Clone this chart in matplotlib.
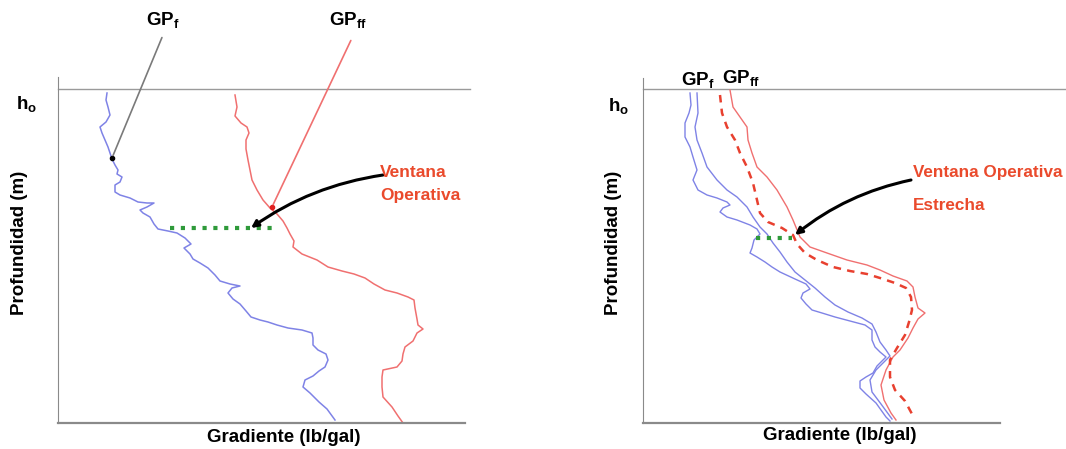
import matplotlib.pyplot as plt

plt.rcParams['font.family'] = ['Liberation Sans', 'DejaVu Sans']
plt.rcParams['mathtext.fontset'] = 'custom'
plt.rcParams['mathtext.rm'] = 'Liberation Sans'
plt.rcParams['mathtext.bf'] = 'Liberation Sans:bold'

# ---- left panel: wide operating window (gradient vs depth, arbitrary units) ----
gpf_l_x = [49, 48, 50, 52, 48, 42, 44, 47, 50, 52, 54, 57, 60, 59, 64, 62, 57, 57, 62, 72,
           80, 89, 96, 89, 82, 85, 92, 96, 100, 110, 119, 127, 133, 126, 132, 135, 142, 150,
           157, 162, 172, 182, 174, 170, 175, 182, 188, 193, 202, 210, 219, 230, 244, 254,
           255, 255, 260, 268, 270, 267, 261, 255, 247, 245, 252, 261, 269, 277]
gpf_l_d = [4, 11, 18, 26, 33, 38, 44, 51, 58, 64, 70, 76, 81, 85, 88, 93, 96, 103, 106, 109,
           113, 114, 114, 118, 121, 124, 128, 135, 140, 142, 144, 149, 155, 159, 165, 170, 174,
           179, 186, 192, 195, 197, 199, 204, 210, 215, 222, 228, 231, 233, 236, 239, 241, 244,
           249, 256, 261, 265, 271, 278, 282, 287, 291, 298, 304, 313, 320, 331]

gpff_l_x = [177, 179, 177, 183, 189, 191, 188, 188, 190, 192, 194, 199, 205, 212, 219, 225,
            229, 232, 236, 235, 244, 259, 270, 284, 296, 307, 316, 327, 339, 350, 356, 357,
            359, 360, 365, 359, 355, 347, 345, 344, 339, 325, 324, 324, 325, 334, 340, 345]
gpff_l_d = [6, 18, 27, 34, 38, 44, 51, 60, 71, 81, 91, 101, 111, 119, 125, 132, 139, 145,
            152, 158, 165, 171, 178, 182, 185, 189, 195, 201, 204, 208, 211, 219, 230, 236,
            240, 244, 252, 258, 265, 272, 278, 281, 288, 298, 308, 318, 327, 334]

win_l_x = [112, 220]
win_l_d = [139, 139]

# ---- right panel: narrow operating window ----
gpf_r1_x = [47, 48, 46, 42, 42, 47, 50, 54, 50, 55, 64, 74, 84, 87, 80, 77, 84, 94, 107, 114,
            117, 111, 109, 107, 114, 122, 129, 137, 152, 163, 167, 160, 158, 163, 169, 179,
            192, 207, 222, 229, 229, 232, 237, 243, 234, 230, 223, 217, 217, 223, 233, 243, 247]
gpf_r1_d = [4, 16, 24, 34, 48, 58, 68, 81, 91, 101, 106, 109, 113, 116, 119, 123, 128, 131,
            136, 140, 145, 151, 159, 164, 168, 173, 178, 183, 190, 195, 200, 204, 209, 215,
            221, 224, 228, 232, 236, 241, 251, 258, 263, 268, 277, 284, 288, 292, 299, 305,
            314, 328, 332]

gpf_r2_x = [54, 55, 52, 54, 59, 64, 74, 84, 94, 104, 110, 117, 124, 130, 137, 144, 152, 162,
            172, 182, 192, 205, 219, 229, 233, 237, 243, 247, 241, 233, 227, 229, 238, 249]
gpf_r2_d = [4, 24, 38, 51, 64, 78, 91, 101, 108, 118, 128, 138, 145, 154, 163, 173, 183, 191,
            199, 208, 216, 223, 229, 235, 243, 253, 261, 267, 273, 281, 291, 303, 315, 330]

gpff_r_x = [87, 90, 97, 104, 105, 109, 114, 124, 134, 144, 150, 157, 167, 184, 204, 224, 237,
            250, 264, 270, 272, 275, 282, 275, 270, 265, 257, 250, 243, 238, 241, 248, 253]
gpff_r_d = [1, 18, 28, 38, 51, 64, 78, 88, 101, 118, 131, 148, 158, 164, 171, 176, 181, 187,
            192, 198, 208, 219, 224, 230, 239, 249, 261, 268, 281, 296, 311, 324, 331]

gpff_r2_x = [77, 79, 84, 92, 97, 104, 110, 114, 117, 125, 139, 150, 154, 162, 174, 190, 207,
             224, 237, 252, 263, 268, 269, 266, 262, 254, 247, 247, 252, 262, 269]
gpff_r2_d = [6, 24, 38, 51, 64, 78, 94, 111, 124, 133, 139, 146, 155, 164, 171, 178, 182,
             185, 189, 194, 199, 208, 221, 233, 246, 259, 271, 288, 301, 312, 325]

win_r_x = [113, 149]
win_r_d = [149, 149]

W, H = 1066, 449
fig = plt.figure(figsize=(W / 100, H / 100), dpi=100)

BLUE = '#7f83e6'
RED = '#f07070'
RED_D = '#e8402f'
TXT_RED = '#ea4a2c'


def px(x, y):
    return x / W, 1 - y / H


def make_axes(x0, x1, ytop, ybot, depth_top):
    ax = fig.add_axes([x0 / W, 1 - ybot / H, (x1 - x0) / W, (ybot - ytop) / H])
    ax.set_xlim(0, x1 - x0)
    ax.set_ylim(ybot - depth_top, ytop - depth_top)
    for s in ['top', 'right']:
        ax.spines[s].set_visible(False)
    ax.spines['left'].set_color('#8a8a8a')
    ax.spines['bottom'].set_color('#8a8a8a')
    ax.spines['bottom'].set_linewidth(1.6)
    ax.set_xticks([])
    ax.set_yticks([])
    return ax


def label(x, y, main, sub, size=13.5):
    fig.text(*px(x, y), r'$\mathbf{%s}_\mathbf{%s}$' % (main, sub), fontsize=size,
             ha='center', va='center')


ARROW = dict(arrowstyle='-|>,head_length=0.4,head_width=0.2', color='black',
             lw=2.2, connectionstyle='arc3,rad=0.12', shrinkA=0, shrinkB=0)

# left panel
ax1 = make_axes(58, 465, 77, 423, 89)
ax1.plot([0, 412], [0, 0], color='#9a9a9a', lw=1, clip_on=False)
ax1.plot(gpf_l_x, gpf_l_d, color=BLUE, lw=1.1)
ax1.plot(gpff_l_x, gpff_l_d, color=RED, lw=1.1)
ax1.plot(win_l_x, win_l_d, color='#2f9a3a', lw=3, ls=(0, (1, 1.6)))
ax1.annotate('', xy=(54, 69), xytext=(105, -54), annotation_clip=False,
             arrowprops=dict(arrowstyle='-', color='#7a7a7a', lw=1.2))
ax1.plot([54], [69], 'o', color='black', ms=3)
ax1.annotate('', xy=(214, 118), xytext=(294, -51), annotation_clip=False,
             arrowprops=dict(arrowstyle='-', color=RED, lw=1.2))
ax1.plot([214], [118], 'o', color='#e02020', ms=3)
ax1.annotate('', xy=(193, 139), xytext=(325, 86), annotation_clip=False, arrowprops=ARROW)

label(163, 21, 'GP', 'f')
label(348, 21, 'GP', 'ff')
label(27, 105, 'h', 'o')
fig.text(*px(20, 243), 'Profundidad (m)', rotation=90, fontsize=13.5, fontweight='bold',
         ha='center', va='center')
fig.text(*px(284, 437), 'Gradiente (lb/gal)', fontsize=13.5, fontweight='bold',
         ha='center', va='center')
fig.text(*px(380, 172), 'Ventana', fontsize=12.5, fontweight='bold', color=TXT_RED,
         ha='left', va='center')
fig.text(*px(380, 195), 'Operativa', fontsize=12.5, fontweight='bold', color=TXT_RED,
         ha='left', va='center')

# right panel
ax2 = make_axes(643, 1000, 78, 423, 89)
ax2.plot([0, 423], [0, 0], color='#9a9a9a', lw=1, clip_on=False)
ax2.plot(gpf_r1_x, gpf_r1_d, color=BLUE, lw=1.0)
ax2.plot(gpf_r2_x, gpf_r2_d, color=BLUE, lw=1.0)
ax2.plot(gpff_r_x, gpff_r_d, color=RED, lw=1.0)
ax2.plot(gpff_r2_x, gpff_r2_d, color=RED_D, lw=1.8, ls=(0, (3, 2.5)))
ax2.plot(win_r_x, win_r_d, color='#2f9a3a', lw=3, ls=(0, (1, 1.6)))
ax2.annotate('', xy=(152, 146), xytext=(268, 91), annotation_clip=False, arrowprops=ARROW)

label(698, 81, 'GP', 'f')
label(741, 79, 'GP', 'ff')
label(619, 107, 'h', 'o')
fig.text(*px(613, 243), 'Profundidad (m)', rotation=90, fontsize=13.5, fontweight='bold',
         ha='center', va='center')
fig.text(*px(840, 436), 'Gradiente (lb/gal)', fontsize=13.5, fontweight='bold',
         ha='center', va='center')
fig.text(*px(913, 172), 'Ventana Operativa', fontsize=12.3, fontweight='bold', color=TXT_RED,
         ha='left', va='center')
fig.text(*px(913, 205), 'Estrecha', fontsize=12.3, fontweight='bold', color=TXT_RED,
         ha='left', va='center')

fig.savefig('out.png', dpi=100)
